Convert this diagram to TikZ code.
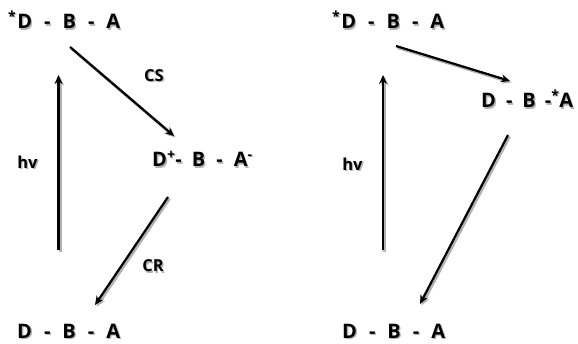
\documentclass[tikz,border=0pt]{standalone}
\usepackage{fontspec}
\setmainfont{Open Sans}
\usetikzlibrary{arrows.meta}

% Enlace entre grupos y texto con sombra
\newcommand{\bnd}{\hspace{0.6em}-\hspace{0.6em}}
\newcommand{\sombra}[1]{\makebox[0pt][l]{\hspace{1.3pt}\raisebox{-1.3pt}{\textcolor{black!30}{#1}}}#1}

\begin{document}
\begin{tikzpicture}[x=1pt,y=1pt,
    estado/.style={anchor=base west,inner sep=0pt,font=\fontsize{20}{22}\selectfont\bfseries},
    etiqueta/.style={inner sep=0pt,font=\fontsize{16.5}{18}\selectfont\bfseries},
    flecha/.style={line width=2.2pt,-{Stealth[length=9pt,width=8pt]},
        preaction={draw=black!30,line width=3pt,
            transform canvas={shift={(1.5pt,-1.5pt)}}}}]

    % Marco
    \useasboundingbox (0,0) rectangle (578,343);

    % Estados (separacion de carga)
    \node[estado] (exL) at (8,314) {\sombra{\textsuperscript{*}\hspace{0.05em}D\bnd B\bnd A}};
    \node[estado] (ctL) at (152,176) {\sombra{D\textsuperscript{+}-\hspace{0.5em}B\hspace{0.55em}-\hspace{0.55em}A\textsuperscript{-}}};
    \node[estado] (gsL) at (17,5) {\sombra{D\bnd B\bnd A}};

    % Estados (transferencia de energia)
    \node[estado] (exR) at (332,314) {\sombra{\textsuperscript{*}\hspace{0.05em}D\bnd B\bnd A}};
    \node[estado] (acR) at (481,235) {\sombra{D\hspace{0.5em}-\hspace{0.5em}B\hspace{0.45em}-\textsuperscript{*}A}};
    \node[estado] (gsR) at (342,5) {\sombra{D\bnd B\bnd A}};

    % Extremos de las flechas
    \coordinate (hvL-a) at (58.5,93);
    \coordinate (hvL-b) at (58.5,268);
    \coordinate (cs-a) at (70,296);
    \coordinate (cs-b) at (174,207);
    \coordinate (cr-a) at (168,146);
    \coordinate (cr-b) at (95,38);
    \coordinate (hvR-a) at (383,93);
    \coordinate (hvR-b) at (383,268);
    \coordinate (et-a) at (396,297);
    \coordinate (et-b) at (510,262);
    \coordinate (dc-a) at (508,208);
    \coordinate (dc-b) at (420,39);

    % Flechas
    \draw[flecha] (hvL-a) -- (hvL-b);
    \draw[flecha] (cs-a) -- (cs-b);
    \draw[flecha] (cr-a) -- (cr-b);
    \draw[flecha] (hvR-a) -- (hvR-b);
    \draw[flecha] (et-a) -- (et-b);
    \draw[flecha] (dc-a) -- (dc-b);

    % Etiquetas
    \node[etiqueta] (hvL) at (27.5,180) {\sombra{hv}};
    \node[etiqueta] (cs) at (154,267) {\sombra{CS}};
    \node[etiqueta] (cr) at (153,76.5) {\sombra{CR}};
    \node[etiqueta] (hvR) at (352.5,178) {\sombra{hv}};

\end{tikzpicture}
\end{document}
